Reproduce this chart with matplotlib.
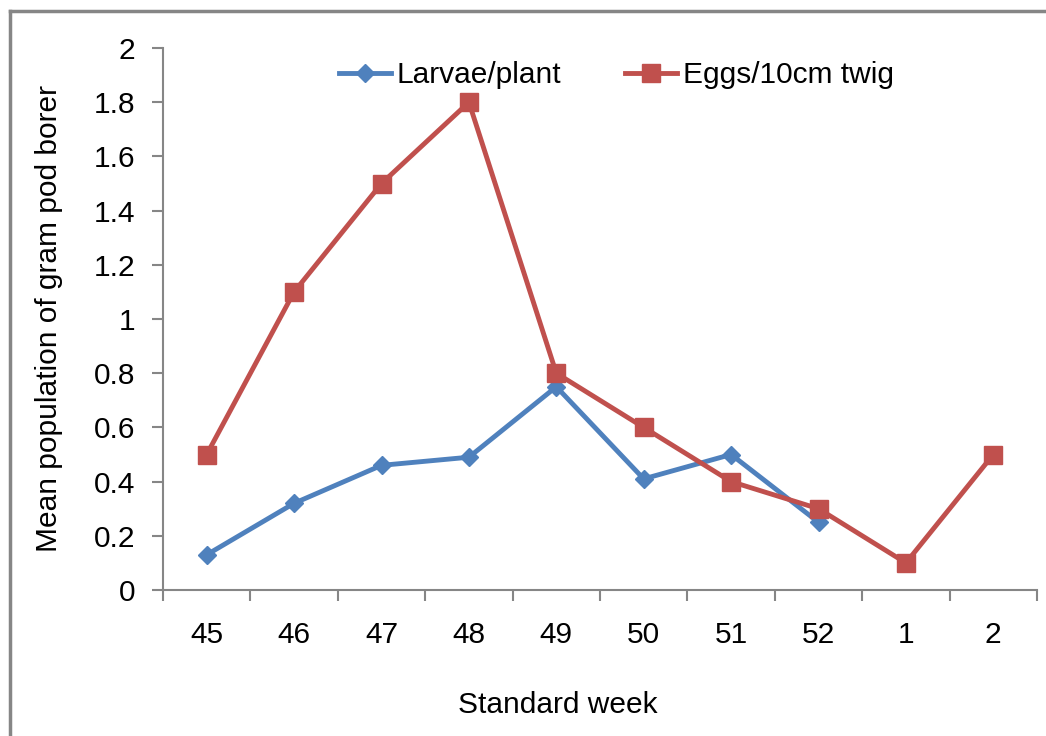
import matplotlib.pyplot as plt
from matplotlib.lines import Line2D

plt.rcParams['font.family'] = ['Liberation Sans', 'DejaVu Sans']

# settimane standard (categorie)
weeks = ['45', '46', '47', '48', '49', '50', '51', '52', '1', '2']
larvae = [0.13, 0.32, 0.46, 0.49, 0.75, 0.41, 0.50, 0.25]
eggs = [0.5, 1.1, 1.5, 1.8, 0.8, 0.6, 0.4, 0.3, 0.1, 0.5]
yticks = [0, 0.2, 0.4, 0.6, 0.8, 1.0, 1.2, 1.4, 1.6, 1.8, 2.0]

blue = '#4F81BD'
red = '#C0504D'
grey = '#868686'
fs = 21.5

fig = plt.figure(figsize=(10.46, 7.36), dpi=100)
ax = fig.add_axes([163 / 1046, 1 - 590 / 736, (1037 - 163) / 1046, (590 - 48) / 736])

x = list(range(len(weeks)))
ax.plot(x[:len(larvae)], larvae, color=blue, lw=3.5, marker='D', ms=9,
        label='Larvae/plant', zorder=3)
ax.plot(x, eggs, color=red, lw=3.5, marker='s', ms=13,
        label='Eggs/10cm twig', zorder=4)

ax.set_xlim(-0.5, len(weeks) - 0.5)
ax.set_ylim(0, 2)
ax.set_yticks(yticks)
ax.set_yticklabels(['%g' % v for v in yticks])
ax.set_xticks(x)
ax.set_xticklabels(weeks)
# tick marks tra le categorie, stile Excel
ax.set_xticks([i - 0.5 for i in range(len(weeks) + 1)], minor=True)
ax.tick_params(axis='x', which='major', length=0, pad=22, labelsize=fs)
ax.tick_params(axis='x', which='minor', length=8, width=1.5, color=grey, direction='out')
ax.tick_params(axis='y', length=8, width=1.5, color=grey, direction='out', pad=12, labelsize=fs)

for s in ['top', 'right']:
    ax.spines[s].set_visible(False)
for s in ['left', 'bottom']:
    ax.spines[s].set_color(grey)
    ax.spines[s].set_linewidth(1.5)

ax.set_xlabel('Standard week', fontsize=fs)
ax.xaxis.set_label_coords((558 - 163) / 874, -(691 - 590) / 874 * 874 / 542)
ax.set_ylabel('Mean population of gram pod borer', fontsize=fs)
ax.yaxis.set_label_coords(-(163 - 63) / 874, 0.5)

ax.legend(loc='center', bbox_to_anchor=(0.519, 0.950), ncol=2, frameon=False,
          fontsize=fs, handlelength=1.74, handletextpad=0.2, columnspacing=2.14,
          borderaxespad=0.0, borderpad=0.0)

# bordo del grafico (solo sinistra e sopra visibili)
fig.add_artist(Line2D([10 / 1046, 10 / 1046], [0, 1 - 11 / 736], color=grey, lw=2.5,
                      transform=fig.transFigure))
fig.add_artist(Line2D([10 / 1046, 1], [1 - 11 / 736, 1 - 11 / 736], color=grey, lw=2.5,
                      transform=fig.transFigure))

fig.savefig('out.png', dpi=100)
